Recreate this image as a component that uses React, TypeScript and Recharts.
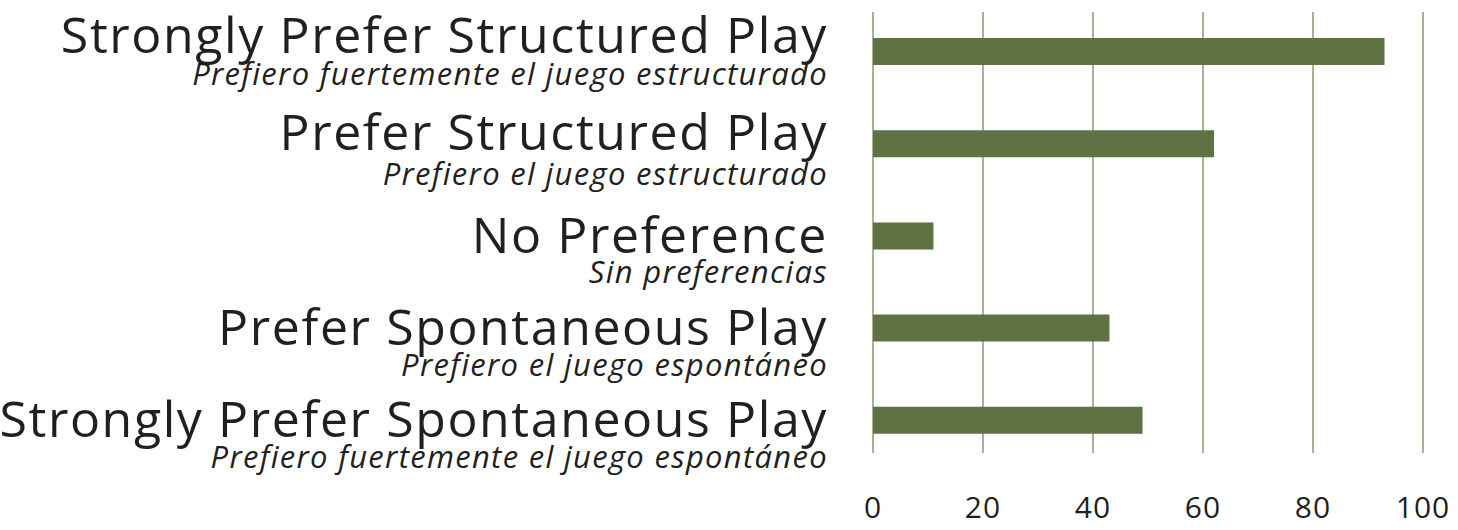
import React from "react";
import { BarChart, Bar, XAxis, YAxis, CartesianGrid } from "recharts";

const categoriesEn = [
  "Strongly Prefer Structured Play",
  "Prefer Structured Play",
  "No Preference",
  "Prefer Spontaneous Play",
  "Strongly Prefer Spontaneous Play",
];
const categoriesEs = [
  "Prefiero fuertemente el juego estructurado",
  "Prefiero el juego estructurado",
  "Sin preferencias",
  "Prefiero el juego espontáneo",
  "Prefiero fuertemente el juego espontáneo",
];
const values = [93, 62, 11, 43, 49];
const xTicks = [0, 20, 40, 60, 80, 100];

const data = categoriesEn.map((en, i) => ({ en, es: categoriesEs[i], value: values[i] }));

const FONT = "'Open Sans', 'Noto Sans', sans-serif";
const TEXT = "#231f20";
const BAR = "#5e7244";
const GRID = "#809266";

// per-row vertical nudges of the two-line labels (relative to the band centre)
const EN_NUDGE = [2, 7, 17, 17, 17];
const ES_NUDGE = [34, 42, 47, 48, 48];

const YTick = (props: any) => {
  const { y, payload, index } = props;
  const i = typeof index === "number" ? index : categoriesEn.indexOf(payload.value);
  return (
    <g>
      <text x={828} y={y + EN_NUDGE[i]} textAnchor="end" fontFamily={FONT} fontSize={50} fontWeight={400} letterSpacing={1.6} fill={TEXT}>
        {payload.value}
      </text>
      <text x={828} y={y + ES_NUDGE[i]} textAnchor="end" fontFamily={FONT} fontSize={31} fontWeight={400} fontStyle="italic" letterSpacing={1.3} fill={TEXT}>
        {categoriesEs[i]}
      </text>
    </g>
  );
};

const XTick = (props: any) => {
  const { x, payload } = props;
  return (
    <text x={x} y={518} textAnchor="middle" fontFamily={FONT} fontSize={30} fontWeight={400} letterSpacing={1} fill={TEXT}>
      {payload.value}
    </text>
  );
};

const GridLine = (props: any) => {
  const { x1, x2, y1, y2 } = props;
  return <line x1={x1} x2={x2} y1={y1 + 7} y2={y2 - 13} stroke={GRID} strokeWidth={1.4} />;
};

export default function App() {
  return (
    <div style={{ position: "absolute", left: 0, top: 0, width: 1458, height: 530, background: "#fff" }}>
      <BarChart
        width={1458}
        height={530}
        data={data}
        layout="vertical"
        margin={{ top: 5, right: 35, bottom: 0, left: 0 }}
      >
        <CartesianGrid horizontal={false} vertical={GridLine} />
        <XAxis
          type="number"
          domain={[0, 100]}
          ticks={xTicks}
          axisLine={false}
          tickLine={false}
          height={64}
          tick={XTick}
          interval={0}
        />
        <YAxis
          type="category"
          dataKey="en"
          width={873}
          axisLine={false}
          tickLine={false}
          tick={YTick}
          interval={0}
        />
        <Bar dataKey="value" fill={BAR} barSize={27} isAnimationActive={false} />
      </BarChart>
    </div>
  );
}
